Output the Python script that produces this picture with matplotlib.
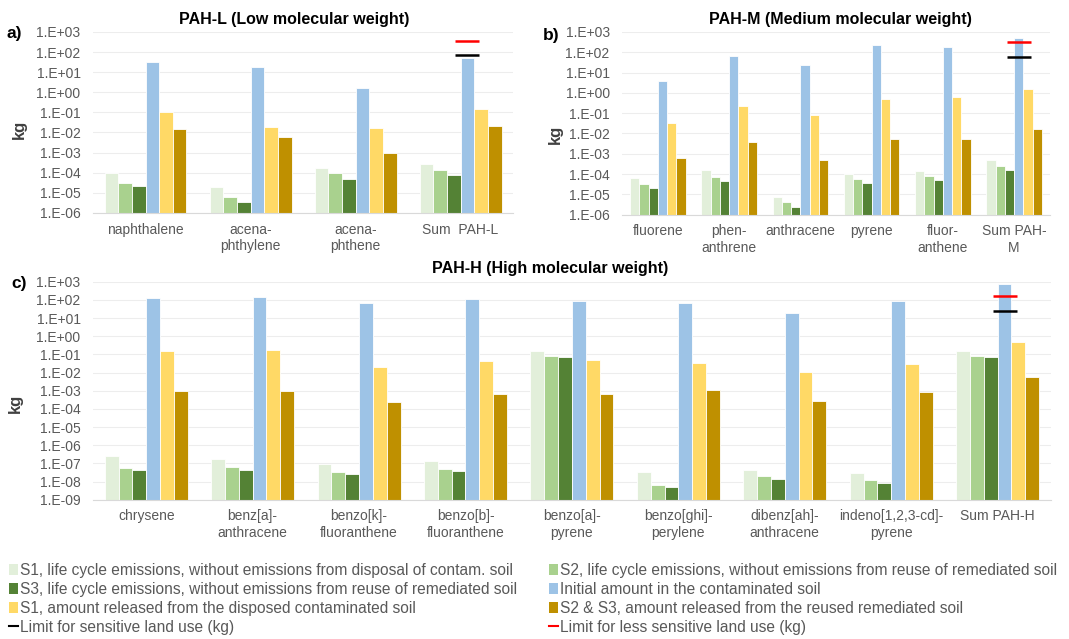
import matplotlib
matplotlib.use("Agg")
import matplotlib.pyplot as plt
from matplotlib.patches import Patch
from matplotlib.lines import Line2D
from matplotlib.ticker import FixedLocator, FuncFormatter, NullLocator
import numpy as np

plt.rcParams['font.family'] = ['Liberation Sans', 'DejaVu Sans']

# series names (legend) and colours
series = ["S1, life cycle emissions, without emissions from disposal of contam. soil",
          "S2, life cycle emissions, without emissions from reuse of remediated soil",
          "S3, life cycle emissions, without emissions from reuse of remediated soil",
          "Initial amount in the contaminated soil",
          "S1, amount released from the disposed contaminated soil",
          "S2 & S3, amount released from the reused remediated soil"]
colors = ["#E2EFDA", "#A9D18E", "#548235", "#9DC3E6", "#FFD966", "#BF9000"]

# PAH-L
cats_l = ["naphthalene", "acena-\nphthylene", "acena-\nphthene", "Sum  PAH-L"]
s1_l = [1.0e-4, 1.9e-5, 1.6e-4, 2.8e-4]
s2_l = [3.0e-5, 6.1e-6, 9.1e-5, 1.28e-4]
s3_l = [2.2e-5, 3.6e-6, 4.6e-5, 7.2e-5]
init_l = [32, 18, 1.55, 53]
rel1_l = [0.10, 0.0195, 0.0174, 0.14]
rel23_l = [0.0144, 5.8e-3, 9.6e-4, 0.021]
lim_sens_l = 68
lim_less_l = 350

# PAH-M
cats_m = ["fluorene", "phen-\nanthrene", "anthracene", "pyrene", "fluor-\nanthene", "Sum PAH-\nM"]
s1_m = [6.4e-5, 1.6e-4, 7.2e-6, 1.05e-4, 1.4e-4, 4.8e-4]
s2_m = [3.3e-5, 7.2e-5, 4.1e-6, 5.8e-5, 8.1e-5, 2.5e-4]
s3_m = [2.0e-5, 4.8e-5, 2.5e-6, 3.6e-5, 5.1e-5, 1.6e-4]
init_m = [4.0, 66, 24.5, 240, 176, 510]
rel1_m = [0.032, 0.23, 0.081, 0.52, 0.65, 1.55]
rel23_m = [6.2e-4, 4.0e-3, 4.9e-4, 5.4e-3, 5.4e-3, 0.016]
lim_sens_m = 56
lim_less_m = 320

# PAH-H
cats_h = ["chrysene", "benz[a]-\nanthracene", "benzo[k]-\nfluoranthene", "benzo[b]-\nfluoranthene",
          "benzo[a]-\npyrene", "benzo[ghi]-\nperylene", "dibenz[ah]-\nanthracene",
          "indeno[1,2,3-cd]-\npyrene", "Sum PAH-H"]
s1_h = [2.6e-7, 1.8e-7, 9.5e-8, 1.4e-7, 0.15, 3.2e-8, 4.1e-8, 3.1e-8, 0.15]
s2_h = [5.3e-8, 6.6e-8, 3.5e-8, 5.1e-8, 0.087, 6.6e-9, 1.9e-8, 1.26e-8, 0.087]
s3_h = [4.3e-8, 4.5e-8, 2.7e-8, 3.6e-8, 0.073, 4.9e-9, 1.4e-8, 8.3e-9, 0.073]
init_h = [126, 137, 69, 106, 90, 69, 18, 90, 740]
rel1_h = [0.15, 0.17, 0.0205, 0.046, 0.048, 0.034, 0.0105, 0.028, 0.49]
rel23_h = [9.3e-4, 9.8e-4, 2.5e-4, 6.6e-4, 6.6e-4, 1.1e-3, 2.9e-4, 8.3e-4, 5.8e-3]
lim_sens_h = 26
lim_less_h = 162

GRAY = "#595959"


def sci_fmt(v, pos):
    return "1.E%+03d" % int(round(np.log10(v)))


def draw_panel(ax, cats, data, lim_sens, lim_less, ymin, title, title_x, letter, kg_pos, letter_pos):
    x = np.arange(len(cats))
    w = 0.13
    for j, vals in enumerate(data):
        ax.bar(x + (j - 2.5) * w, vals, w, color=colors[j], edgecolor="white", linewidth=0.6, zorder=2)
    # limit markers on the sum group
    xs = x[-1] + 0.5 * w
    ax.plot([xs], [lim_less], marker="_", markersize=17, markeredgewidth=1.8, color="#FF0000", zorder=3)
    ax.plot([xs], [lim_sens], marker="_", markersize=17, markeredgewidth=1.8, color="#000000", zorder=3)

    ax.set_yscale("log")
    ax.set_ylim(ymin, 1e3)
    ax.set_xlim(-0.5, len(cats) - 0.5)
    exps = np.arange(int(np.log10(ymin)), 4)
    ax.yaxis.set_major_locator(FixedLocator(10.0 ** exps))
    ax.yaxis.set_minor_locator(NullLocator())
    ax.yaxis.set_major_formatter(FuncFormatter(sci_fmt))
    ax.set_xticks(x)
    ax.set_xticklabels(cats)
    ax.tick_params(axis="y", length=0, pad=9, labelsize=10, labelcolor=GRAY)
    ax.tick_params(axis="x", length=0, pad=7, labelsize=10, labelcolor=GRAY)
    ax.grid(axis="y", color="#EDEDED", linewidth=0.8, zorder=0)
    for s in ["left", "right", "top"]:
        ax.spines[s].set_visible(False)
    ax.spines["bottom"].set_color("#D9D9D9")
    ax.set_title(title, fontsize=11.5, fontweight="bold", x=title_x, pad=6)
    ax.set_ylabel("kg", fontsize=12, fontweight="bold", color="#404040")
    ax.yaxis.set_label_coords(*kg_pos)
    ax.text(letter_pos[0], letter_pos[1], letter, transform=ax.transAxes,
            fontsize=12.5, fontweight="bold", ha="left", va="center")


fig = plt.figure(figsize=(10.69, 6.39), dpi=100)
ax_a = fig.add_axes([0.087, 0.667, 0.393, 0.283])
ax_b = fig.add_axes([0.582, 0.664, 0.400, 0.286])
ax_c = fig.add_axes([0.087, 0.218, 0.896, 0.341])

draw_panel(ax_a, cats_l, [s1_l, s2_l, s3_l, init_l, rel1_l, rel23_l], lim_sens_l, lim_less_l,
           1e-6, "PAH-L (Low molecular weight)", 0.48, "a)", (-0.157, 0.46), (-0.207, 0.99))
draw_panel(ax_b, cats_m, [s1_m, s2_m, s3_m, init_m, rel1_m, rel23_m], lim_sens_m, lim_less_m,
           1e-6, "PAH-M (Medium molecular weight)", 0.51, "b)", (-0.138, 0.44), (-0.185, 0.98))
draw_panel(ax_c, cats_h, [s1_h, s2_h, s3_h, init_h, rel1_h, rel23_h], lim_sens_h, lim_less_h,
           1e-9, "PAH-H (High molecular weight)", 0.477, "c)", (-0.073, 0.44), (-0.085, 0.99))

# legend, two blocks
handles = [Patch(facecolor=c) for c in colors]
lim_black = Line2D([0], [0], color="#000000", linewidth=1.5)
lim_red = Line2D([0], [0], color="#FF0000", linewidth=1.5)
leg_font = {"family": ["Liberation Sans", "DejaVu Sans"], "size": 11.2}
left_h = [handles[0], handles[2], handles[4], lim_black]
left_l = [series[0], series[2], series[4], "Limit for sensitive land use (kg)"]
right_h = [handles[1], handles[3], handles[5], lim_red]
right_l = [series[1], series[3], series[5], "Limit for less sensitive land use (kg)"]
for hs, ls, xpos in [(left_h, left_l, 0.0), (right_h, right_l, 0.505)]:
    leg = fig.legend(hs, ls, loc="lower left", bbox_to_anchor=(xpos, -0.008), frameon=False,
                     prop=leg_font, handlelength=0.55, handleheight=0.75, handletextpad=0.15,
                     labelspacing=0.25, borderaxespad=0.2)
    for t in leg.get_texts():
        t.set_color(GRAY)

fig.savefig("out.png", dpi=100)
